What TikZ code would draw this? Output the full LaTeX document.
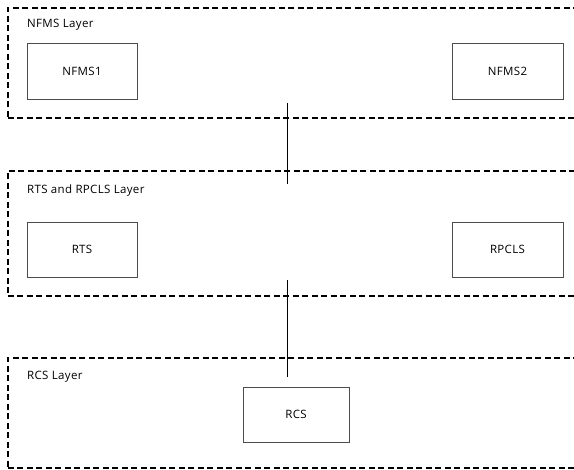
\documentclass[tikz,border=0pt]{standalone}
\usepackage{fontspec}
\setmainfont{Open Sans}[LetterSpace=3]
\begin{document}
\begin{tikzpicture}[x=1pt,y=-1pt,
  layer/.style={draw=black, line width=1.6pt, dash pattern=on 6pt off 3.5pt},
  unit/.style={draw=black!70, line width=0.9pt, fill=white},
  lbl/.style={font=\fontsize{11.5}{14}\selectfont, anchor=west, inner sep=0pt},
  conn/.style={draw=black, line width=1pt}]
\useasboundingbox (0,0) rectangle (574,470);
% layer frames
\node[layer, inner sep=0pt, minimum width=568pt, minimum height=110pt, anchor=north west] (L1) at (7,7) {};
\node[layer, inner sep=0pt, minimum width=568pt, minimum height=125pt, anchor=north west] (L2) at (7,170) {};
\node[layer, inner sep=0pt, minimum width=568pt, minimum height=110pt, anchor=north west] (L3) at (7,357) {};
% layer titles
\node[lbl] (t1) at (27,25) {NFMS Layer};
\node[lbl] (t2) at (27,191) {RTS and RPCLS Layer};
\node[lbl] (t3) at (27,377) {RCS Layer};
% unit boxes
\node[unit, lbl, anchor=center, minimum width=110pt, minimum height=56pt] (nfms1) at (82,71) {NFMS1};
\node[unit, lbl, anchor=center, minimum width=111pt, minimum height=56pt] (nfms2) at (507.5,71) {NFMS2};
\node[unit, lbl, anchor=center, minimum width=110pt, minimum height=55pt] (rts) at (82,249.5) {RTS};
\node[unit, lbl, anchor=center, minimum width=111pt, minimum height=55pt] (rpcls) at (507.5,249.5) {RPCLS};
\node[unit, lbl, anchor=center, minimum width=106pt, minimum height=55pt] (rcs) at (296,414.5) {RCS};
% connectors between layers
\coordinate (a1) at (287,103);
\coordinate (a2) at (287,184);
\coordinate (b1) at (287,280);
\coordinate (b2) at (287,377);
\draw[conn] (a1) -- (a2);
\draw[conn] (b1) -- (b2);
\end{tikzpicture}
\end{document}
